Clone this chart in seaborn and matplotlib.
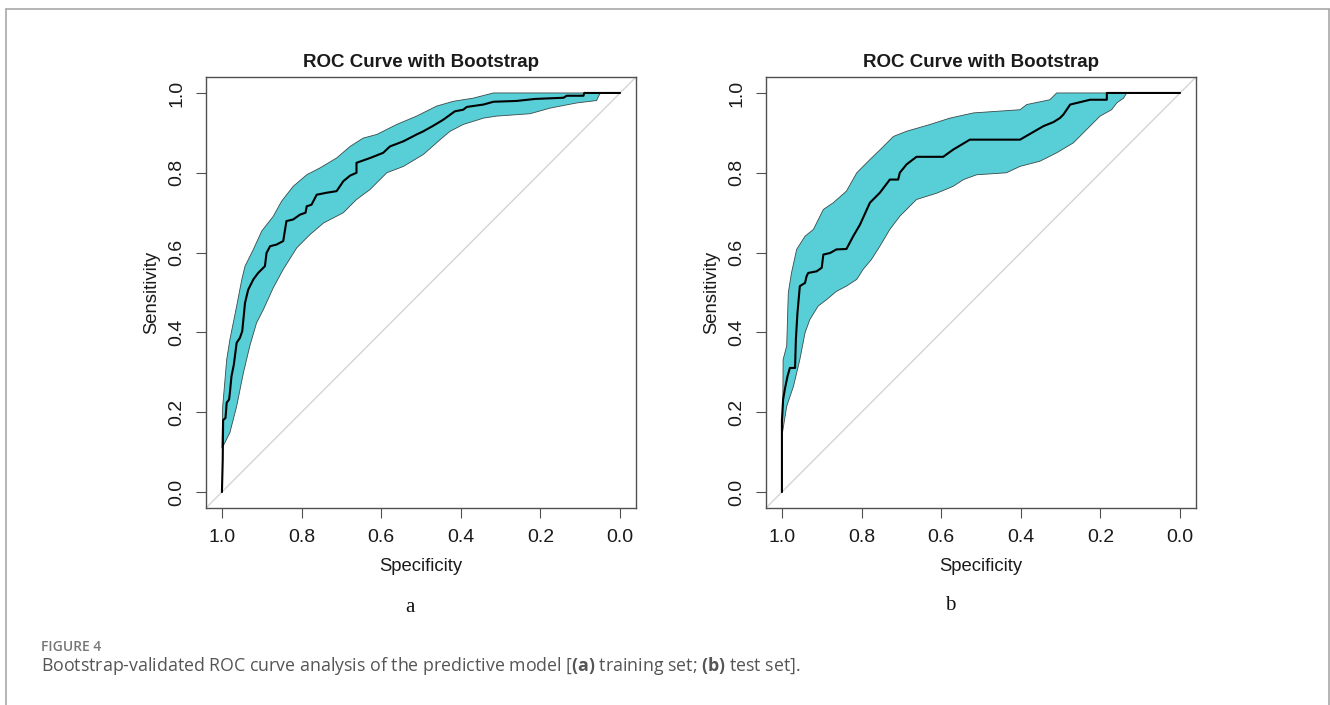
import numpy as np
import pandas as pd
import matplotlib
matplotlib.use("Agg")
import matplotlib.pyplot as plt
import seaborn as sns
from matplotlib.lines import Line2D

# ---------------- data ----------------
ticks = [1.0, 0.8, 0.6, 0.4, 0.2, 0.0]
tick_labels = ["1.0", "0.8", "0.6", "0.4", "0.2", "0.0"]

# panel a: training set
a_spec = [1.0, 0.998, 0.997, 0.991, 0.988, 0.982, 0.98, 0.976, 0.97, 0.963, 0.955, 0.949, 0.942, 0.934,
          0.921, 0.909, 0.892, 0.888, 0.879, 0.863, 0.846, 0.838, 0.821, 0.804, 0.79, 0.787, 0.775, 0.762,
          0.737, 0.712, 0.695, 0.678, 0.662, 0.662, 0.628, 0.595, 0.578, 0.544, 0.511, 0.494, 0.469, 0.444,
          0.415, 0.394, 0.385, 0.343, 0.318, 0.26, 0.214, 0.142, 0.134, 0.092, 0.09, 0.0]
a_sens = [0.0, 0.08, 0.18, 0.186, 0.224, 0.232, 0.249, 0.29, 0.32, 0.374, 0.386, 0.403, 0.474, 0.507,
          0.533, 0.549, 0.566, 0.599, 0.616, 0.62, 0.629, 0.679, 0.683, 0.695, 0.7, 0.716, 0.72, 0.745,
          0.75, 0.754, 0.779, 0.793, 0.8, 0.825, 0.837, 0.85, 0.866, 0.879, 0.896, 0.904, 0.918, 0.933,
          0.954, 0.958, 0.965, 0.971, 0.978, 0.98, 0.985, 0.988, 0.993, 0.993, 1.0, 1.0]
a_up_spec = [1.0, 0.998, 0.988, 0.98, 0.963, 0.95, 0.942, 0.921, 0.9, 0.871, 0.85, 0.821, 0.787, 0.754,
             0.712, 0.678, 0.645, 0.611, 0.561, 0.511, 0.461, 0.419, 0.369, 0.318, 0.05]
a_up_sens = [0.11, 0.215, 0.332, 0.382, 0.466, 0.533, 0.566, 0.608, 0.654, 0.691, 0.729, 0.766, 0.795, 0.812,
             0.837, 0.866, 0.887, 0.896, 0.921, 0.942, 0.967, 0.979, 0.987, 1.0, 1.0]
a_lo_spec = [1.0, 0.997, 0.98, 0.963, 0.946, 0.93, 0.913, 0.896, 0.871, 0.846, 0.812, 0.779, 0.745, 0.695,
             0.662, 0.628, 0.586, 0.544, 0.494, 0.452, 0.427, 0.394, 0.343, 0.31, 0.226, 0.176, 0.109, 0.059, 0.05]
a_lo_sens = [0.11, 0.115, 0.149, 0.215, 0.299, 0.366, 0.424, 0.457, 0.512, 0.558, 0.612, 0.645, 0.674, 0.7,
             0.733, 0.758, 0.8, 0.816, 0.846, 0.883, 0.904, 0.921, 0.937, 0.942, 0.948, 0.962, 0.975, 0.981, 1.0]

# panel b: test set
b_spec = [1.0, 1.0, 0.997, 0.992, 0.986, 0.98, 0.967, 0.965, 0.961, 0.955, 0.942, 0.938, 0.934, 0.913,
          0.9, 0.896, 0.879, 0.863, 0.838, 0.821, 0.804, 0.779, 0.754, 0.729, 0.708, 0.704, 0.687, 0.662,
          0.595, 0.57, 0.528, 0.402, 0.343, 0.318, 0.302, 0.293, 0.276, 0.226, 0.184, 0.184, 0.0]
b_sens = [0.0, 0.18, 0.232, 0.261, 0.29, 0.311, 0.311, 0.382, 0.449, 0.516, 0.524, 0.541, 0.549, 0.553,
          0.562, 0.595, 0.599, 0.608, 0.609, 0.641, 0.67, 0.725, 0.75, 0.783, 0.783, 0.8, 0.821, 0.84,
          0.84, 0.858, 0.883, 0.883, 0.917, 0.927, 0.937, 0.946, 0.971, 0.983, 0.983, 1.0, 1.0]
b_up_spec = [1.0, 0.998, 0.997, 0.988, 0.984, 0.976, 0.963, 0.942, 0.921, 0.896, 0.871, 0.838, 0.812, 0.779,
             0.745, 0.72, 0.687, 0.628, 0.578, 0.519, 0.402, 0.385, 0.327, 0.31, 0.134]
b_up_sens = [0.14, 0.19, 0.332, 0.366, 0.499, 0.549, 0.608, 0.641, 0.658, 0.708, 0.725, 0.754, 0.8, 0.833,
             0.866, 0.891, 0.904, 0.921, 0.937, 0.95, 0.958, 0.971, 0.983, 1.0, 1.0]
b_lo_spec = [1.0, 0.988, 0.971, 0.955, 0.942, 0.93, 0.909, 0.888, 0.863, 0.838, 0.812, 0.796, 0.775, 0.754,
             0.729, 0.704, 0.662, 0.611, 0.57, 0.544, 0.511, 0.436, 0.402, 0.352, 0.31, 0.268, 0.235, 0.201,
             0.172, 0.159, 0.142, 0.134]
b_lo_sens = [0.14, 0.215, 0.265, 0.332, 0.399, 0.432, 0.466, 0.482, 0.503, 0.516, 0.533, 0.558, 0.583, 0.616,
             0.658, 0.691, 0.733, 0.749, 0.766, 0.783, 0.795, 0.8, 0.816, 0.829, 0.85, 0.875, 0.908, 0.942,
             0.958, 0.975, 0.987, 1.0]

title = "ROC Curve with Bootstrap"
panel_labels = ["a", "b"]

# ---------------- styling ----------------
sns.set_theme(style="white")
plt.rcParams["font.family"] = ["Liberation Sans", "DejaVu Sans"]
plt.rcParams["mathtext.fontset"] = "custom"
plt.rcParams["mathtext.rm"] = "Open Sans"
plt.rcParams["mathtext.bf"] = "Open Sans:bold"

W, H = 1330, 705
fig = plt.figure(figsize=(W / 100, H / 100), dpi=100)

band_color = "#58CED6"
edge_color = "#3a4a4a"
spine_color = "#505050"
text_color = "#1a1a1a"


def draw_panel(left_px, spec, sens, up_s, up_v, lo_s, lo_v, letter, letter_xy):
    ax = fig.add_axes([left_px / W, 1 - 508 / H, 430 / W, 431 / H])
    ax.set_xlim(1.04, -0.04)
    ax.set_ylim(-0.04, 1.04)

    # bootstrap band
    px = list(up_s) + list(lo_s)[::-1]
    py = list(up_v) + list(lo_v)[::-1]
    ax.fill(px, py, facecolor=band_color, edgecolor=edge_color, linewidth=0.6, zorder=2)

    # chance diagonal
    ax.plot([1.04, -0.04], [-0.04, 1.04], color="#d4d4d4", lw=1.0, zorder=1)

    # ROC curve
    df = pd.DataFrame({"Specificity": spec, "Sensitivity": sens})
    sns.lineplot(data=df, x="Specificity", y="Sensitivity", sort=False, estimator=None,
                 color="black", lw=1.5, ax=ax, zorder=3)

    ax.set_xticks(ticks)
    ax.set_xticklabels(tick_labels)
    ax.set_yticks(ticks)
    ax.set_yticklabels(tick_labels, rotation=90, va="center")
    ax.tick_params(axis="both", which="major", direction="out", length=7, width=0.8,
                   color=spine_color, labelsize=14, labelcolor=text_color, pad=8,
                   bottom=True, left=True)
    for s in ax.spines.values():
        s.set_color(spine_color)
        s.set_linewidth(1.0)

    ax.set_title(title, fontsize=13.5, fontweight="bold", color=text_color, pad=7)
    ax.set_xlabel("Specificity", fontsize=13.3, color=text_color)
    ax.set_ylabel("Sensitivity", fontsize=13.3, color=text_color)
    ax.xaxis.set_label_coords(0.5, (508 - 558) / 431)
    ax.yaxis.set_label_coords((160 - 206) / 430, 0.5)

    fig.text(letter_xy[0] / W, 1 - letter_xy[1] / H, letter, family="Liberation Serif",
             fontsize=15, ha="center", va="center", color="#111111")
    return ax


draw_panel(206, a_spec, a_sens, a_up_spec, a_up_sens, a_lo_spec, a_lo_sens, panel_labels[0], (410, 607))
draw_panel(766, b_spec, b_sens, b_up_spec, b_up_sens, b_lo_spec, b_lo_sens, panel_labels[1], (950, 605))

# ---------------- caption and frame ----------------
cap_family = ["Open Sans", "DejaVu Sans"]
fig.text(41 / W, 1 - 647 / H, "FIGURE 4", family=cap_family, fontsize=10, fontweight="semibold",
         color="#777777", ha="left", va="center")

caption = (r"Bootstrap-validated ROC curve analysis of the predictive model "
           r"[$\mathbf{(a)}$ training set; $\mathbf{(b)}$ test set].")
fig.text(41 / W, 1 - 671 / H, caption, family=cap_family, fontsize=12.8, color="#555555",
         ha="left", va="baseline")

frame_col = "#a8a8a8"
fig.add_artist(Line2D([6 / W, 6 / W], [0, 1 - 9 / H], color=frame_col, lw=1.2, transform=fig.transFigure))
fig.add_artist(Line2D([6 / W, 1328.5 / W], [1 - 9 / H, 1 - 9 / H], color=frame_col, lw=1.2, transform=fig.transFigure))
fig.add_artist(Line2D([1328.5 / W, 1328.5 / W], [0, 1 - 9 / H], color=frame_col, lw=1.2, transform=fig.transFigure))

fig.savefig("out.png", dpi=100, facecolor="white")
